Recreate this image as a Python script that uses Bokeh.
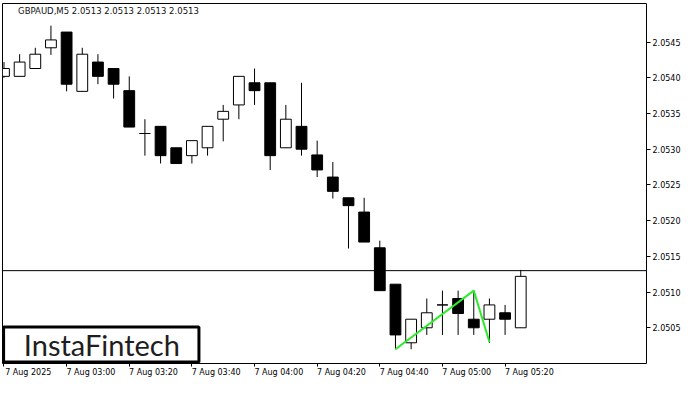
from bokeh.plotting import figure
from bokeh.models import (Range1d, LinearAxis, FixedTicker, PrintfTickFormatter,
                          Span, Label, ColumnDataSource)
from bokeh.embed import file_html
from bokeh.resources import INLINE

# ---------------- data ----------------
times = ["02:40", "02:45", "02:50", "02:55", "03:00", "03:05", "03:10", "03:15",
         "03:20", "03:25", "03:30", "03:35", "03:40", "03:45", "03:50", "03:55",
         "04:00", "04:05", "04:10", "04:15", "04:20", "04:25", "04:30", "04:35",
         "04:40", "04:45", "04:50", "04:55", "05:00", "05:05", "05:10", "05:15",
         "05:20", "05:25"]
opens = [2.05402, 2.05402, 2.05413, 2.05442, 2.05464, 2.05381, 2.05422, 2.05413,
         2.05382, 2.05322, 2.05332, 2.05302, 2.05291, 2.05302, 2.05342, 2.05362,
         2.05393, 2.05393, 2.05302, 2.05332, 2.05292, 2.05261, 2.05232, 2.05212,
         2.05162, 2.05111, 2.05029, 2.05050, 2.05082, 2.05091, 2.05062, 2.05062,
         2.05071, 2.05050]
highs = [2.05422, 2.05433, 2.05442, 2.05473, 2.05464, 2.05442, 2.05433, 2.05413,
         2.05402, 2.05342, 2.05332, 2.05302, 2.05312, 2.05332, 2.05362, 2.05402,
         2.05413, 2.05393, 2.05362, 2.05393, 2.05312, 2.05282, 2.05232, 2.05232,
         2.05172, 2.05111, 2.05062, 2.05091, 2.05102, 2.05102, 2.05102, 2.05091,
         2.05082, 2.05131]
lows = [2.05400, 2.05402, 2.05413, 2.05432, 2.05381, 2.05381, 2.05391, 2.05371,
        2.05331, 2.05291, 2.05280, 2.05280, 2.05280, 2.05291, 2.05311, 2.05342,
        2.05362, 2.05271, 2.05302, 2.05291, 2.05261, 2.05231, 2.05161, 2.05170,
        2.05102, 2.05020, 2.05020, 2.05040, 2.05040, 2.05040, 2.05040, 2.05029,
        2.05040, 2.05050]
closes = [2.05413, 2.05422, 2.05433, 2.05453, 2.05391, 2.05433, 2.05402, 2.05391,
          2.05331, 2.05322, 2.05291, 2.05280, 2.05312, 2.05332, 2.05353, 2.05402,
          2.05382, 2.05291, 2.05342, 2.05300, 2.05271, 2.05241, 2.05221, 2.05170,
          2.05102, 2.05040, 2.05062, 2.05071, 2.05082, 2.05070, 2.05050, 2.05082,
          2.05062, 2.05122]

# pattern line (bar index, price)
pattern_idx = [25, 30, 31]
pattern_price = [2.05020, 2.05102, 2.05030]

last_price = 2.0513
symbol_title = "GBPAUD,M5  2.0513 2.0513 2.0513 2.0513"

y_ticks = [2.0505, 2.0510, 2.0515, 2.0520, 2.0525, 2.0530, 2.0535, 2.0540, 2.0545]
x_tick_idx = [0, 4, 8, 12, 16, 20, 24, 28, 32]
x_tick_labels = ["7 Aug 2025", "7 Aug 03:00", "7 Aug 03:20", "7 Aug 03:40",
                 "7 Aug 04:00", "7 Aug 04:20", "7 Aug 04:40", "7 Aug 05:00",
                 "7 Aug 05:20"]

# ---------------- build ----------------
idx = list(range(len(times)))
bull = [c > o for o, c in zip(opens, closes)]
src = ColumnDataSource(dict(
    x=idx, high=highs, low=lows,
    top=[max(o, c) for o, c in zip(opens, closes)],
    bottom=[min(o, c) for o, c in zip(opens, closes)],
    fill=["white" if b else "black" for b in bull],
))

XMIN, XMAX = -0.094, 41.03
YMIN, YMAX = 2.05000, 2.05504

p = figure(width=684, height=384, output_backend="svg", toolbar_location=None,
           x_range=Range1d(XMIN, XMAX), y_range=Range1d(YMIN, YMAX),
           x_axis_location=None, y_axis_location=None,
           min_border_left=2, min_border_top=3, min_border_right=38,
           min_border_bottom=21)
p.grid.visible = False
p.outline_line_color = "black"
p.outline_line_width = 1
p.background_fill_color = "white"
p.border_fill_color = "white"

AX_FONT = "DejaVu Sans"

yaxis = LinearAxis(ticker=FixedTicker(ticks=y_ticks),
                   formatter=PrintfTickFormatter(format="%.4f"))
yaxis.axis_line_color = None
yaxis.major_tick_in = 0
yaxis.major_tick_out = 4
yaxis.minor_tick_line_color = None
yaxis.major_label_standoff = 2
yaxis.major_label_text_font = AX_FONT
yaxis.major_label_text_font_size = "8px"
yaxis.major_label_text_color = "black"
p.add_layout(yaxis, "right")

# x axis: tick marks at bar positions
x_tick_axis = LinearAxis(ticker=FixedTicker(ticks=x_tick_idx),
                         major_label_overrides={i: "" for i in x_tick_idx})
x_tick_axis.axis_line_color = None
x_tick_axis.major_tick_in = 0
x_tick_axis.major_tick_out = 3
x_tick_axis.minor_tick_line_color = None
x_tick_axis.major_label_standoff = 0
x_tick_axis.major_label_text_font_size = "1px"
p.add_layout(x_tick_axis, "below")

# x axis labels: MT4 style, text starts at the tick (shifted by half a label width)
LABEL_SHIFT = 1.55
label_pos = [i + LABEL_SHIFT for i in x_tick_idx]
x_label_axis = LinearAxis(ticker=FixedTicker(ticks=label_pos),
                          major_label_overrides={pos: l for pos, l in zip(label_pos, x_tick_labels)})
x_label_axis.axis_line_color = None
x_label_axis.major_tick_in = 0
x_label_axis.major_tick_out = 0
x_label_axis.major_tick_line_color = None
x_label_axis.minor_tick_line_color = None
x_label_axis.major_label_standoff = 1
x_label_axis.major_label_text_font = AX_FONT
x_label_axis.major_label_text_font_size = "8px"
x_label_axis.major_label_text_color = "black"
p.add_layout(x_label_axis, "below")

# wicks then bodies
p.segment(x0="x", y0="low", x1="x", y1="high", source=src,
          line_color="black", line_width=1)
p.vbar(x="x", width=0.69, top="top", bottom="bottom", source=src,
       fill_color="fill", line_color="black", line_width=1)

# last price line
p.add_layout(Span(location=last_price, dimension="width",
                  line_color="black", line_width=1))

# pattern line
p.line(pattern_idx, pattern_price, line_color="#2aec2a", line_width=2)

# title
p.add_layout(Label(x=0.9, y=2.05493, text=symbol_title, text_font=AX_FONT,
                   text_font_size="8.5px", text_color="#111111",
                   text_baseline="middle", text_align="left"))

# price tag on the axis
p.add_layout(Label(x=XMAX, y=last_price, x_offset=1, text=f"{last_price:.4f}",
                   text_font=AX_FONT, text_font_size="8px", text_color="white",
                   text_baseline="middle", text_align="left",
                   background_fill_color="black", padding=2))

# logo box
p.quad(left=[XMIN + 0.07], right=[12.45], bottom=[YMIN + 0.000022],
       top=[2.05051], fill_color="white", line_color="black", line_width=3)
p.add_layout(Label(x=6.25, y=2.05026, text="InstaFintech", text_font="Lato",
                   text_font_size="29px", text_color="#1e1e1e",
                   text_baseline="middle", text_align="center"))

html = file_html(p, INLINE)
open("out.html", "w").write(html)
